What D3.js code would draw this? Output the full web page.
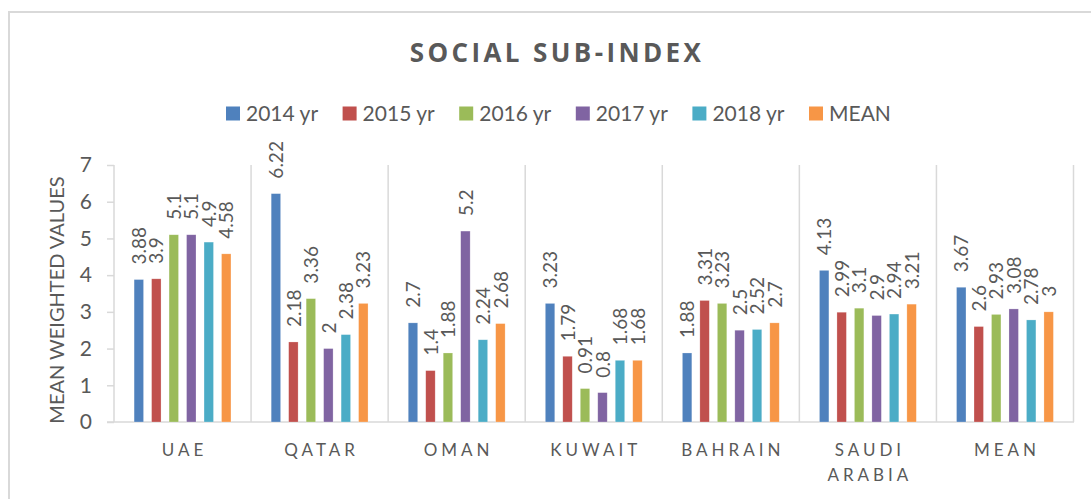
<!DOCTYPE html>
<html>
<head>
<meta charset="utf-8">
<script src="https://cdn.jsdelivr.net/npm/d3@7"></script>
<style>
  body { margin: 0; background: #fff; }
  svg { display: block; font-family: Lato, "Open Sans", sans-serif; }
</style>
</head>
<body>
<div id="chart"></div>
<script>
// data
var countries = ["UAE", "QATAR", "OMAN", "KUWAIT", "BAHRAIN", "SAUDI ARABIA", "MEAN"];
var seriesNames = ["2014 yr", "2015 yr", "2016 yr", "2017 yr", "2018 yr", "MEAN"];
var y2014 = [3.88, 6.22, 2.7, 3.23, 1.88, 4.13, 3.67];
var y2015 = [3.9, 2.18, 1.4, 1.79, 3.31, 2.99, 2.6];
var y2016 = [5.1, 3.36, 1.88, 0.91, 3.23, 3.1, 2.93];
var y2017 = [5.1, 2, 5.2, 0.8, 2.5, 2.9, 3.08];
var y2018 = [4.9, 2.38, 2.24, 1.68, 2.52, 2.94, 2.78];
var yMean = [4.58, 3.23, 2.68, 1.68, 2.7, 3.21, 3];
var yTicks = [0, 1, 2, 3, 4, 5, 6, 7];
var colors = ["#4f81bd", "#c0504d", "#9bbb59", "#8064a2", "#4bacc6", "#f79646"];

var allSeries = [y2014, y2015, y2016, y2017, y2018, yMean];

var W = 1091, H = 499;
var svg = d3.select("#chart").append("svg").attr("width", W).attr("height", H);

// outer chart frame
svg.append("rect")
  .attr("x", 9).attr("y", 12).attr("width", W + 20).attr("height", H + 20)
  .attr("fill", "none").attr("stroke", "#d9d9d9").attr("stroke-width", 2);

var x0 = d3.scaleBand().domain(countries).range([114, 1073.5]);
var x1 = d3.scaleBand().domain(seriesNames).range([0, x0.bandwidth()])
  .paddingInner(0.46).paddingOuter(1.15);
var y = d3.scaleLinear().domain([0, 7]).range([422, 165]);

// title
svg.append("text")
  .attr("x", 557).attr("y", 62)
  .attr("text-anchor", "middle")
  .attr("font-family", "'Open Sans', Lato, sans-serif")
  .attr("font-size", 26).attr("font-weight", "bold")
  .attr("letter-spacing", 3.4)
  .attr("fill", "#595959")
  .text("SOCIAL SUB-INDEX");

// legend
var legend = svg.selectAll("g.legend").data(seriesNames).enter().append("g")
  .attr("class", "legend")
  .attr("transform", (d, i) => `translate(${226 + i * 116.6},113)`);
legend.append("rect")
  .attr("x", 0).attr("y", -6.5).attr("width", 14).attr("height", 14)
  .attr("fill", (d, i) => colors[i]);
legend.append("text")
  .attr("x", 20).attr("y", 7.5)
  .attr("font-size", 21).attr("fill", "#595959")
  .text(d => d);

// category separators
var seps = countries.map(c => x0(c)).concat([x0.range()[1]]);
svg.selectAll("line.sep").data(seps).enter().append("line")
  .attr("class", "sep")
  .attr("x1", d => d).attr("x2", d => d)
  .attr("y1", y(7)).attr("y2", y(0))
  .attr("stroke", "#d9d9d9").attr("stroke-width", 1.5);

// y axis
var yAxis = svg.append("g").attr("transform", "translate(114,0)")
  .call(d3.axisLeft(y).tickValues(yTicks).tickSize(7).tickPadding(15).tickFormat(d3.format("d")));
yAxis.select(".domain").remove();
yAxis.selectAll("line").attr("stroke", "#d9d9d9").attr("stroke-width", 1.5);
yAxis.selectAll("text").attr("font-size", 21).attr("fill", "#595959")
  .attr("font-family", "Lato, 'Open Sans', sans-serif");

// x baseline
svg.append("line")
  .attr("x1", 107).attr("x2", 1074)
  .attr("y1", y(0)).attr("y2", y(0))
  .attr("stroke", "#d9d9d9").attr("stroke-width", 1.5);

// y title
svg.append("text")
  .attr("transform", "translate(64,300) rotate(-90)")
  .attr("text-anchor", "middle")
  .attr("font-size", 20).attr("fill", "#595959")
  .text("MEAN WEIGHTED VALUES");

// bars
var groups = svg.selectAll("g.country").data(countries).enter().append("g")
  .attr("class", "country")
  .attr("transform", d => `translate(${x0(d)},0)`);

groups.selectAll("rect.bar")
  .data((c, ci) => seriesNames.map((s, si) => ({ s: s, si: si, v: allSeries[si][ci] })))
  .enter().append("rect")
  .attr("class", "bar")
  .attr("x", d => x1(d.s))
  .attr("width", x1.bandwidth())
  .attr("y", d => y(d.v))
  .attr("height", d => y(0) - y(d.v))
  .attr("fill", d => colors[d.si])
  .attr("stroke", "#fff").attr("stroke-opacity", 0.4).attr("stroke-width", 0.6);

// value labels
groups.selectAll("text.val")
  .data((c, ci) => seriesNames.map((s, si) => ({ s: s, si: si, v: allSeries[si][ci] })))
  .enter().append("text")
  .attr("class", "val")
  .attr("transform", d => `translate(${x1(d.s) + x1.bandwidth() / 2 + 0.5},${y(d.v) - 15}) rotate(-90)`)
  .attr("dy", "0.35em")
  .attr("font-size", 19).attr("fill", "#595959")
  .text(d => d.v);

// category labels
var ls = 4;
svg.selectAll("text.cat").data(countries).enter().append("text")
  .attr("class", "cat")
  .attr("text-anchor", "middle")
  .attr("font-size", 17).attr("fill", "#595959")
  .attr("letter-spacing", ls)
  .each(function (d) {
    var words = d === "SAUDI ARABIA" ? ["SAUDI", "ARABIA"] : [d];
    var t = d3.select(this);
    words.forEach((w, i) => {
      t.append("tspan")
        .attr("x", x0(d) + x0.bandwidth() / 2 + ls / 2)
        .attr("y", 456 + i * 25)
        .text(w);
    });
  });
</script>
</body>
</html>
